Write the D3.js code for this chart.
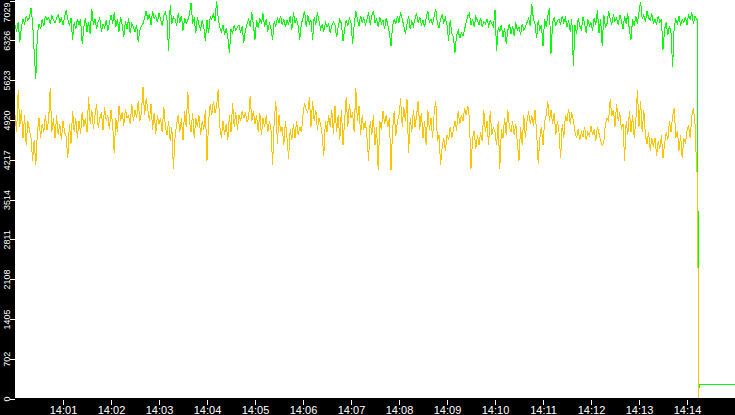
<!DOCTYPE html>
<html>
<head>
<meta charset="utf-8">
<script src="https://cdn.jsdelivr.net/npm/d3@7"></script>
<style>
  html, body { margin: 0; padding: 0; background: #fff; overflow: hidden; }
  svg { display: block; }
</style>
</head>
<body>
<div class="chart"></div>
<script>
// samples every 2 s from 14:00:00 up to the drop at ~14:14:12
const stepSec = 2;
const greenValues = [
  6600,6480,6650,6300,6560,6700,6620,6750,6680,6720,6900,6640,6110,5640,6450,6620,6520,6700,6580,6760,
  6680,6730,6620,6760,6690,6640,6720,6780,6650,6710,6600,6740,6860,6700,6580,6720,6330,6650,6520,6700,
  6600,6700,6260,6550,6720,6480,6650,6430,6880,6600,6700,6530,6660,6720,6480,6610,6550,6680,6500,6620,
  6780,6620,6820,6560,6700,6480,6740,6600,6380,6660,6520,6710,6450,6620,6560,6480,6600,6290,6500,6580,
  6620,6720,6850,6680,6790,6600,6840,6710,6760,6650,6800,6700,6580,6760,6820,6680,6140,6940,6620,6740,
  6700,6580,6800,6640,6760,6500,6720,6620,6680,6780,6990,6640,6700,6460,6740,6600,6520,6680,6560,6310,
  6680,6450,6740,6700,6800,6660,7020,6720,6560,6480,6600,6420,6540,6380,6110,6520,6450,6600,6500,6560,
  6600,6460,6580,6280,6500,6620,6700,6560,6820,6600,6340,6680,6540,6720,6620,6800,6560,6700,6480,6640,
  6520,6340,6660,6580,6720,6640,6760,6600,6700,6560,6680,6620,6750,6500,6820,6640,6700,6580,6340,6620,
  6720,6850,6560,6780,6620,6680,6340,6740,6600,6820,6660,6520,6600,6480,6640,6560,6620,6460,6580,6650,
  6600,6380,6560,6700,6620,6310,6520,6680,6580,6720,6640,6260,6600,6850,6700,6580,6760,6640,6720,6600,
  6700,6820,6600,6760,6850,6640,6700,6560,6740,6620,6680,6520,6720,6600,6460,6230,6580,6700,6620,6760,
  6640,6830,6700,6580,6440,6620,6760,6520,6660,6580,6700,6800,6640,6740,6600,6680,6560,6720,6850,6640,
  6700,6600,6760,6880,6620,6540,6700,6780,6640,6720,6600,6320,6680,6450,6380,6110,6420,6500,6360,6460,
  6400,6520,6640,6760,6800,6600,6700,6560,6740,6680,6600,6720,6560,6660,6620,6700,6580,6680,6620,6560,
  6860,6130,6560,6480,6600,6380,6540,6260,6500,6620,6440,6580,6400,6640,6500,6560,6420,6620,6500,6560,
  6640,6720,6580,6960,6700,6620,6360,6680,6520,6600,6220,6700,6560,6760,6900,6090,6640,6720,6580,6680,
  6700,6600,6760,6640,6720,6560,6680,6480,6700,5880,6600,6440,6720,6580,6500,6740,6620,6460,6700,6580,
  6640,6500,6720,6600,6860,6450,6700,6230,6780,6560,6620,6840,6700,6600,6780,6660,6720,6600,6780,6680,
  6520,6760,6620,6800,6500,6340,6700,6580,6760,6620,6820,7010,6700,6780,6650,6840,6720,6680,6800,6620,
  6700,6600,6760,6640,6700,6160,6520,6640,6420,6580,6460,5850,6560,6700,6620,6760,6580,6700,6640,6740,
  6600,6780,6700,6820,6620,6760,6700
];
const yellowValues = [
  5000,4700,5440,4800,5100,4600,5000,4470,4900,4750,4600,4200,4560,4120,4700,4950,4600,4850,4700,5000,
  4750,4900,5480,4700,4950,4600,5000,4650,4850,4560,4900,4700,4620,4240,4850,4500,5080,4700,4950,4600,
  4900,4680,5060,4800,4950,4700,5320,4850,5100,4760,5000,5200,4780,4950,5050,4740,5150,4900,5000,4760,
  5100,4850,4330,4950,4700,5170,4900,5050,4820,5120,4950,5000,4850,5200,4900,5100,4950,5260,4900,5050,
  5500,5000,5300,5100,4900,5200,4750,5050,4680,5000,4850,4950,4700,5150,4800,4650,4900,4550,4800,4060,
  4600,4850,5000,4700,4950,4560,5080,4800,5420,4900,4700,5050,4600,4950,4800,5000,4650,4900,4750,5100,
  4200,4900,5200,5000,5260,5050,5150,5470,4800,4600,4900,4650,4850,4560,5000,4700,5210,4800,5050,4750,
  5000,4900,5080,4950,5050,4880,4950,5350,4900,5080,4850,5000,4700,5050,4650,4950,4800,5000,4700,4900,
  4750,4120,4900,5260,4500,5000,4700,4800,4470,4900,4600,4230,4750,4560,4850,4600,4900,4650,4800,4700,
  5000,5220,5100,5050,5320,4800,5260,4900,5100,4750,4950,4850,4650,4290,4900,4700,5000,4800,5100,4680,
  5170,4700,5000,4560,5100,4470,4900,5320,4800,5200,4950,5050,4700,5490,4900,5170,4650,5000,4750,4900,
  4600,4200,4900,4650,5000,4470,4800,4030,4900,4750,5080,4850,5000,4800,4950,4030,4750,5080,4640,4900,
  5000,5300,4800,5150,4900,5280,4330,4950,4700,5100,4800,5000,5260,4750,5050,4600,4900,4470,5100,4750,
  4950,4600,5050,5260,4550,4650,4120,4450,4600,4380,4650,4560,4800,4600,4750,4900,4730,5080,4850,5000,
  4900,5120,5000,5170,4950,4060,4600,4730,4400,4650,4480,4700,4550,5100,4700,4900,4470,5080,4650,4800,
  4700,4470,4900,4060,4750,4600,4950,4650,5100,4800,4700,4900,4650,4850,4500,4200,4800,4470,5000,4600,
  4900,5070,4850,5000,4820,5100,4700,4150,4600,4800,4470,4900,5000,5250,4900,5100,4850,5050,4650,4900,
  4700,4240,4850,4600,5000,4900,5120,4850,5050,4900,4700,4600,4750,4560,4700,4620,4800,4560,4700,4640,
  4820,4650,4750,4550,4800,4680,4560,4470,4520,4850,4950,4900,5280,4990,5100,4800,5200,4900,5050,4750,
  4850,4200,4900,4650,5080,4700,5000,4600,4900,5440,4800,5260,4700,5100,4650,4500,4700,4380,4600,4450,
  4600,4290,4550,4400,4650,4240,4500,4700,4560,4900,4700,4990,5130,4600,4730,4380,4650,4240,4600,4500,
  4730,4820,4600,4990,5130,4850,4060
];
// after the drop (seconds from 14:00:00)
const greenTailSec = [853.125, 854.375, 855.625, 900];
const greenTail = [6700, 115, 252, 252];
const yellowTailSec = [853.25, 854.5, 900];
const yellowTail = [3900, 0, 0];

const yMax = 7029;
const yTickLabels = ["0", "702", "1405", "2108", "2811", "3514", "4217", "4920", "5623", "6326", "7029"];
const xTickLabels = ["14:01", "14:02", "14:03", "14:04", "14:05", "14:06", "14:07",
                     "14:08", "14:09", "14:10", "14:11", "14:12", "14:13", "14:14"];

const w = 735;
const h = 415;
const left = 15;
const bottom = 398;

const parseTime = d3.timeParse("%H:%M:%S");
const t0 = parseTime("14:00:00");
const t1 = parseTime("14:15:00");
const atSec = s => new Date(t0.getTime() + s * 1000);

const toPoints = (vals, tail, tailSec) => vals.map((v, i) => ({ t: atSec(i * stepSec), v: v }))
  .concat(tail.map((v, i) => ({ t: atSec(tailSec[i]), v: v })));

const x = d3.scaleTime().domain([t0, t1]).range([left, w]);
const y = d3.scaleLinear().domain([0, yMax]).range([bottom + 0.5, 0.5]);

const svg = d3.select(".chart")
  .append("svg")
  .attr("width", w)
  .attr("height", h);

svg.append("rect").attr("width", w).attr("height", h).attr("fill", "#fff");

const line = d3.line().x(d => x(d.t)).y(d => y(d.v));

svg.append("path")
  .datum(toPoints(greenValues, greenTail, greenTailSec))
  .attr("d", line)
  .attr("fill", "none")
  .attr("stroke", "#00ff00")
  .attr("stroke-width", 1)
  .attr("shape-rendering", "crispEdges");

svg.append("path")
  .datum(toPoints(yellowValues, yellowTail, yellowTailSec))
  .attr("d", line)
  .attr("fill", "none")
  .attr("stroke", "#ffc400")
  .attr("stroke-width", 1)
  .attr("shape-rendering", "crispEdges");

// black axis bands
svg.append("rect").attr("x", 0).attr("y", 0).attr("width", left).attr("height", h).attr("fill", "#000");
svg.append("rect").attr("x", 0).attr("y", bottom).attr("width", w).attr("height", h - bottom).attr("fill", "#000");

const yAxis = d3.axisLeft(y)
  .tickValues(yTickLabels.map((s, i) => yMax * i / 10))
  .tickFormat((d, i) => yTickLabels[i])
  .tickSize(5);

const yAxisLine = svg.append("g")
  .attr("id", "y-axis")
  .attr("transform", `translate(${left}, 0)`)
  .call(yAxis);
yAxisLine.select(".domain").remove();
yAxisLine.selectAll("line").attr("stroke", "#fff").attr("shape-rendering", "crispEdges");
// top label is pushed down so it stays inside the band
yAxisLine.selectAll("text")
  .attr("x", 0).attr("y", 0).attr("dy", 0)
  .attr("transform", (d, i) => `translate(-5, ${i === yTickLabels.length - 1 ? 11.5 : 0}) rotate(-90)`)
  .attr("text-anchor", "middle")
  .attr("fill", "#fff")
  .style("font", "9px 'Liberation Sans', Arial, sans-serif");

const xAxis = d3.axisBottom(x)
  .tickValues(xTickLabels.map(s => parseTime(s + ":00")))
  .tickFormat((d, i) => xTickLabels[i])
  .tickSize(7);

const xAxisLine = svg.append("g")
  .attr("id", "x-axis")
  .attr("transform", `translate(0, ${bottom})`)
  .call(xAxis);
xAxisLine.select(".domain").remove();
xAxisLine.selectAll("line").attr("y1", 2).attr("stroke", "#fff").attr("shape-rendering", "crispEdges");
xAxisLine.selectAll("text")
  .attr("y", 16).attr("dy", 0)
  .attr("fill", "#fff")
  .style("font", "11px 'Liberation Sans', Arial, sans-serif");
</script>
</body>
</html>
